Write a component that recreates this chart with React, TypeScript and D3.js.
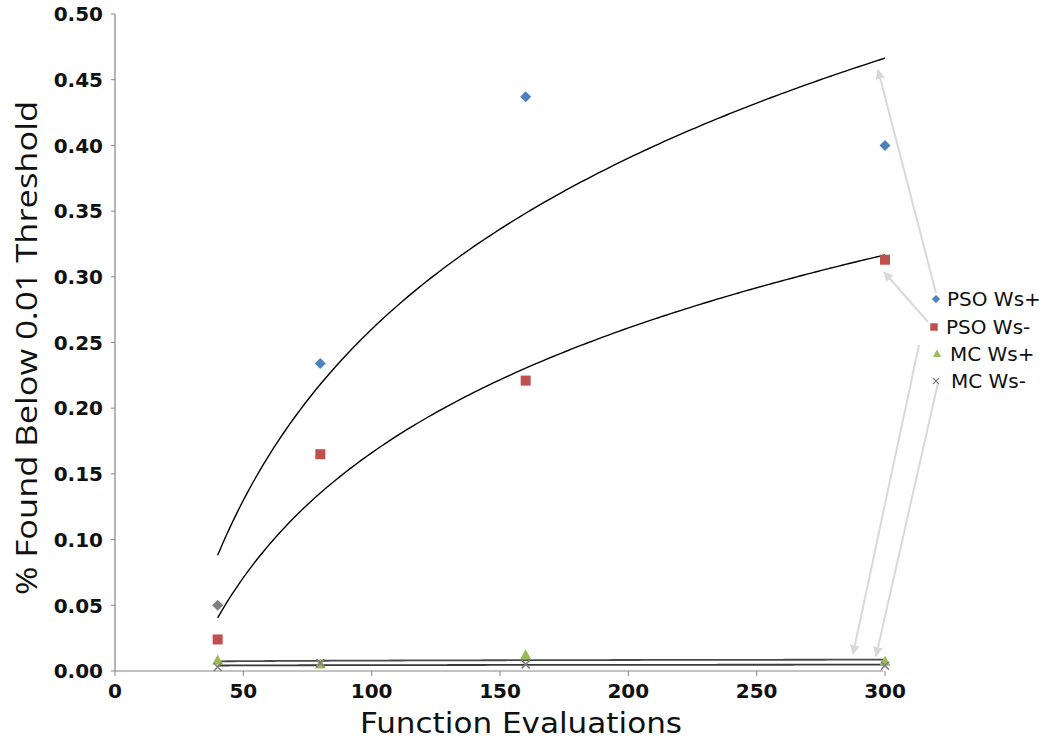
import React from "react";
import * as d3 from "d3";

const xValues = [40, 80, 160, 300];
const psoWsPlus = [0.05, 0.234, 0.437, 0.4];
const psoWsMinus = [0.024, 0.165, 0.221, 0.313];
const mcWsPlus = [0.008, 0.005, 0.012, 0.007];
const mcWsMinus = [0.003, 0.006, 0.005, 0.004];
const xTicks = [0, 50, 100, 150, 200, 250, 300];
const yTicks = [0, 0.05, 0.1, 0.15, 0.2, 0.25, 0.3, 0.35, 0.4, 0.45, 0.5];
const seriesNames = ["PSO Ws+", "PSO Ws-", "MC Ws+", "MC Ws-"];

const W = 1051;
const H = 740;
const x = d3.scaleLinear().domain([0, 300]).range([115, 885]);
const y = d3.scaleLinear().domain([0, 0.5]).range([671, 14]);

function logFit(xs: number[], ys: number[]) {
  const lx = xs.map(Math.log);
  const mx = d3.mean(lx)!;
  const my = d3.mean(ys)!;
  let sxy = 0, sxx = 0;
  lx.forEach((v, i) => { sxy += (v - mx) * (ys[i] - my); sxx += (v - mx) * (v - mx); });
  const b = sxy / sxx;
  const a = my - b * mx;
  return (v: number) => a + b * Math.log(v);
}

const series = [
  { name: seriesNames[0], vals: psoWsPlus, color: "#4f81bd", shape: "diamond", trend: "#000000", tw: 1.4 },
  { name: seriesNames[1], vals: psoWsMinus, color: "#c0504d", shape: "square", trend: "#000000", tw: 1.4 },
  { name: seriesNames[2], vals: mcWsPlus, color: "#9bbb59", shape: "triangle", trend: "#4a4a4a", tw: 1.8 },
  { name: seriesNames[3], vals: mcWsMinus, color: "#7f7f7f", shape: "x", trend: "#3a3a3a", tw: 1.8 },
];

function Marker({ shape, cx, cy, color }: { shape: string; cx: number; cy: number; color: string }) {
  if (shape === "diamond") {
    const r = 5.5;
    return <path d={`M${cx},${cy - r}L${cx + r},${cy}L${cx},${cy + r}L${cx - r},${cy}Z`} fill={color} />;
  }
  if (shape === "square") {
    return <rect x={cx - 5} y={cy - 5} width={10} height={10} fill={color} />;
  }
  if (shape === "triangle") {
    return <path d={`M${cx},${cy - 6}L${cx + 5.5},${cy + 4}L${cx - 5.5},${cy + 4}Z`} fill={color} />;
  }
  return (
    <path d={`M${cx - 4},${cy - 4}L${cx + 4},${cy + 4}M${cx - 4},${cy + 4}L${cx + 4},${cy - 4}`} stroke={color} strokeWidth={1.6} />
  );
}

export default function App() {
  const trendXs = d3.range(40, 300.01, 2);
  const line = d3.line<[number, number]>().x(d => x(d[0])).y(d => y(d[1])).curve(d3.curveMonotoneX);
  const legendY = [299, 327, 354, 381];
  const legendMarkX = [936, 934, 937, 936];
  const legendTextX = [947, 946, 950, 951];
  const arrowColor = "#d9d9d9";
  const arrows = [
    { x1: 936, y1: 293, x2: 878, y2: 70 },
    { x1: 928, y1: 322, x2: 884, y2: 272 },
    { x1: 919, y1: 345, x2: 853, y2: 654 },
    { x1: 938, y1: 383, x2: 876, y2: 656 },
  ];

  return (
    <svg width={W} height={H} style={{ position: "absolute", left: 0, top: 0, background: "#fff" }} fontFamily="DejaVu Sans">
      <defs>
        <marker id="ah" viewBox="0 0 10 10" refX="9" refY="5" markerWidth="5" markerHeight="5" orient="auto">
          <path d="M0,0L10,5L0,10Z" fill={arrowColor} />
        </marker>
      </defs>
      <rect width={W} height={H} fill="#fff" />
      {/* axes */}
      <line x1={x(0)} x2={x(0)} y1={y(0.5)} y2={y(0)} stroke="#868686" strokeWidth={1.2} />
      <line x1={x(0)} x2={x(300) - 2} y1={y(0)} y2={y(0)} stroke="#868686" strokeWidth={1.2} />
      {yTicks.map(t => (
        <g key={t}>
          <line x1={x(0) - 4} x2={x(0)} y1={y(t)} y2={y(t)} stroke="#868686" />
          <text x={103} y={y(t)} dy="0.36em" textAnchor="end" fontSize={20} fontWeight="bold" fill="#111">
            {t.toFixed(2)}
          </text>
        </g>
      ))}
      {xTicks.map(t => (
        <g key={t}>
          <line x1={x(t)} x2={x(t)} y1={y(0)} y2={y(0) + 5} stroke="#868686" />
          <text x={x(t)} y={698} textAnchor="middle" fontSize={20} fontWeight="bold" fill="#111">
            {t}
          </text>
        </g>
      ))}
      <text x={521} y={733} textAnchor="middle" fontSize={29} fill="#111" textLength={322} lengthAdjust="spacingAndGlyphs">
        Function Evaluations
      </text>
      <text
        transform={`translate(37,348) rotate(-90)`}
        textAnchor="middle"
        fontFamily="Open Sans"
        fontSize={29}
        fill="#111"
        textLength={494}
        lengthAdjust="spacingAndGlyphs"
      >
        % Found Below 0.01 Threshold
      </text>
      {/* trend lines */}
      {series.map(s => {
        const f = logFit(xValues, s.vals);
        return (
          <path key={s.name + "t"} d={line(trendXs.map(v => [v, f(v)] as [number, number]))!} fill="none" stroke={s.trend} strokeWidth={s.tw} />
        );
      })}
      {/* points */}
      {series.map(s =>
        s.vals.map((v, i) => (
          <Marker key={s.name + i} shape={s.shape} cx={x(xValues[i])} cy={y(v)} color={s.shape === "diamond" && i === 0 ? "#808080" : s.color} />
        ))
      )}
      {/* leader arrows */}
      {arrows.map((a, i) => (
        <line key={i} x1={a.x1} y1={a.y1} x2={a.x2} y2={a.y2} stroke={arrowColor} strokeWidth={2} markerEnd="url(#ah)" />
      ))}
      {/* legend */}
      {series.map((s, i) => (
        <g key={s.name + "l"}>
          <g transform={`translate(${legendMarkX[i]},${legendY[i]}) scale(0.75) translate(${-legendMarkX[i]},${-legendY[i]})`}>
            <Marker shape={s.shape} cx={legendMarkX[i]} cy={legendY[i]} color={s.color} />
          </g>
          <text x={legendTextX[i]} y={legendY[i]} dy="0.36em" fontSize={20} fill="#111">
            {s.name}
          </text>
        </g>
      ))}
    </svg>
  );
}
